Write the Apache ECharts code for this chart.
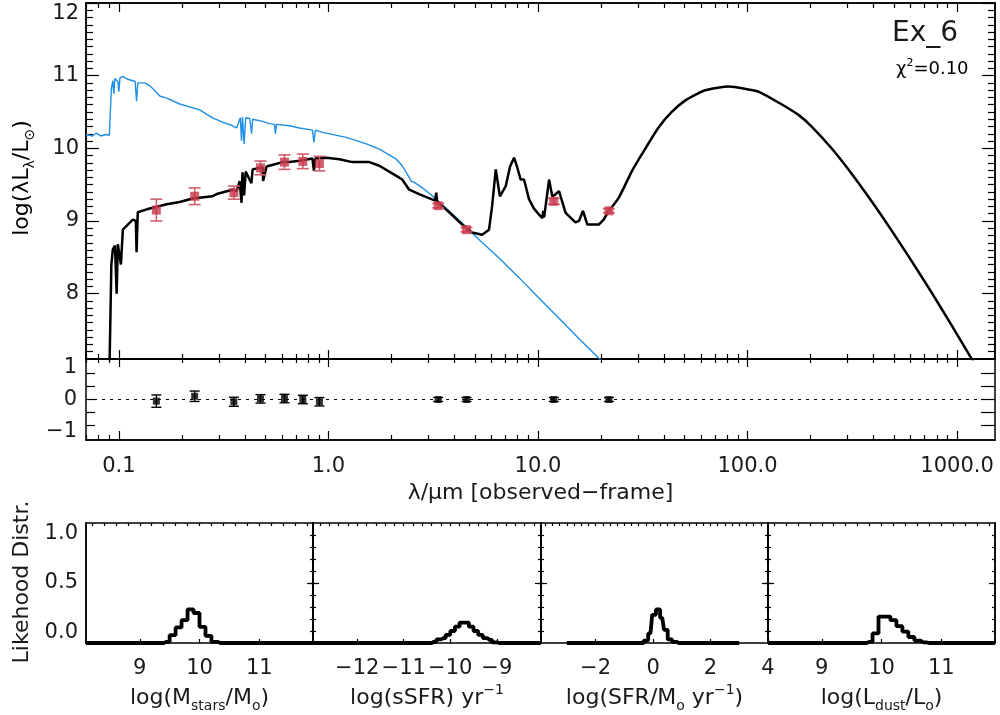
<!DOCTYPE html>
<html>
<head>
<meta charset="utf-8">
<script src="https://cdn.jsdelivr.net/npm/echarts@6/dist/echarts.min.js"></script>
<style>
  html, body { margin: 0; background: #fff; }
  #chart { width: 1000px; height: 715px; }
</style>
</head>
<body>
<div id="chart"></div>
<script>
// ---- values ----
// total model SED (black): wavelength in micron, log(lambda L_lambda / Lsun)
const sedLam = [0.0900, 0.0921, 0.0936, 0.0958, 0.0976, 0.0989, 0.1023, 0.1045, 0.1104, 0.1166,
  0.1205, 0.1215, 0.1231, 0.136, 0.1693, 0.195, 0.225, 0.280, 0.293, 0.349,
  0.365, 0.377, 0.385, 0.389, 0.396, 0.403, 0.411, 0.429, 0.435, 0.485,
  0.488, 0.507, 0.604, 0.652, 0.728, 0.839, 0.853, 0.867, 0.978, 1.128,
  1.301, 1.567, 1.75, 2.11, 2.25, 2.43, 2.71, 3.23, 3.27, 3.30,
  3.77, 4.35, 4.85, 5.41, 5.84, 6.04, 6.29, 6.58, 7.02, 7.36,
  7.69, 7.94, 8.27, 8.58, 9.06, 9.57, 10.1, 10.5, 10.6, 10.7,
  11.3, 11.7, 12.05, 12.6, 13.55, 15.1, 15.7, 16.4, 17.2, 19.5,
  20.6, 21.8, 24.3, 28.0, 30.3, 32.6, 37.7, 43.5, 50.5, 58.4,
  62.9, 81.2, 101, 112.8, 140.5, 175, 202.4, 251.8, 314, 391,
  486.6, 606, 754, 939, 1170, 1330];
const sedLog = [6.80, 8.40, 8.61, 8.66, 8.00, 8.68, 8.40, 8.88, 8.95, 9.02,
  9.00, 8.57, 9.12, 9.16, 9.23, 9.26, 9.31, 9.34, 9.37, 9.43,
  9.41, 9.55, 9.25, 9.67, 9.35, 9.68, 9.66, 9.52, 9.71, 9.74,
  9.55, 9.75, 9.81, 9.81, 9.83, 9.86, 9.69, 9.86, 9.87, 9.85,
  9.81, 9.81, 9.76, 9.62, 9.57, 9.43, 9.37, 9.28, 9.39, 9.27,
  9.12, 8.95, 8.84, 8.81, 8.88, 9.20, 9.71, 9.34, 9.48, 9.75,
  9.87, 9.75, 9.57, 9.57, 9.30, 9.17, 9.09, 9.04, 9.14, 9.05,
  9.57, 9.34, 9.36, 9.41, 9.11, 8.98, 9.00, 9.14, 8.95, 8.95,
  9.02, 9.14, 9.32, 9.68, 9.85, 10.00, 10.29, 10.50, 10.66, 10.76,
  10.80, 10.85, 10.81, 10.78, 10.63, 10.46, 10.30, 10.00, 9.65, 9.27,
  8.87, 8.45, 8.02, 7.57, 7.11, 6.84];

// unattenuated stellar spectrum (blue)
const starLam = [0.0697, 0.075, 0.078, 0.082, 0.0865, 0.0901, 0.0921, 0.0936, 0.0946, 0.0958,
  0.0989, 0.100, 0.1012, 0.1045, 0.1104, 0.1166, 0.1196, 0.1215, 0.1231, 0.133,
  0.1405, 0.148, 0.1567, 0.1693, 0.1952, 0.243, 0.280, 0.319, 0.349, 0.365,
  0.373, 0.380, 0.385, 0.389, 0.396, 0.403, 0.421, 0.430, 0.435, 0.485,
  0.523, 0.553, 0.559, 0.565, 0.652, 0.728, 0.839, 0.853, 0.867, 0.936,
  1.218, 1.517, 1.75, 2.11, 2.25, 2.43, 2.48, 2.57, 2.80, 3.27,
  4.35, 5.24, 6.52, 8.12, 10.1, 12.6, 15.7, 19.7, 21];
const starLog = [10.19, 10.17, 10.21, 10.17, 10.19, 10.18, 10.82, 10.93, 10.75, 10.96,
  10.92, 10.78, 10.97, 10.99, 10.95, 10.93, 10.92, 10.65, 10.90, 10.90,
  10.86, 10.80, 10.72, 10.69, 10.61, 10.53, 10.42, 10.35, 10.31, 10.28,
  10.27, 10.42, 10.10, 10.43, 10.06, 10.42, 10.41, 10.20, 10.40, 10.37,
  10.34, 10.33, 10.20, 10.33, 10.31, 10.28, 10.25, 10.08, 10.25, 10.22,
  10.15, 10.06, 9.99, 9.85, 9.76, 9.60, 9.55, 9.53, 9.46, 9.30,
  8.97, 8.74, 8.49, 8.22, 7.94, 7.66, 7.38, 7.10, 6.98];

// observed photometry (red) and residuals (black)
const obsLam = [0.151, 0.230, 0.354, 0.474, 0.617, 0.755, 0.906, 3.34, 4.56, 11.9, 21.8];
const obsLog = [9.15, 9.34, 9.39, 9.73, 9.81, 9.82, 9.79, 9.21, 8.88, 9.27, 9.14];
const obsErr = [0.15, 0.115, 0.09, 0.095, 0.10, 0.10, 0.10, 0.03, 0.03, 0.04, 0.03];
const resid = [-0.05, 0.10, -0.07, 0.02, 0.03, 0.00, -0.07, 0.00, 0.00, 0.00, 0.00];
const residErr = [0.19, 0.16, 0.14, 0.13, 0.13, 0.13, 0.13, 0.06, 0.06, 0.06, 0.06];

// likelihood distributions (bin centres, probability)
const massBins = [8.1, 9.35, 9.45, 9.55, 9.65, 9.75, 9.85, 9.95, 10.05, 10.15, 10.25, 10.35, 11.9];
const massProb = [0, 0, 0.01, 0.065, 0.13, 0.19, 0.28, 0.25, 0.135, 0.06, 0.01, 0, 0];
const ssfrBins = [-12.95, -10.45, -10.35, -10.25, -10.15, -10.05, -9.95, -9.85, -9.75, -9.65,
  -9.55, -9.45, -9.35, -9.25, -9.15, -9.05, -8.95, -8.05];
const ssfrProb = [0, 0, 0.01, 0.03, 0.04, 0.067, 0.10, 0.136, 0.17, 0.17,
  0.136, 0.10, 0.067, 0.04, 0.025, 0.005, 0, 0];
const sfrBins = [-3.0, -0.4, -0.25, -0.09, 0.03, 0.17, 0.32, 0.44, 0.58, 0.75, 0.9, 3.0];
const sfrProb = [0, 0, 0.02, 0.08, 0.235, 0.28, 0.21, 0.11, 0.03, 0.01, 0, 0];
const ldustBins = [8.1, 9.7, 9.8, 9.9, 10.0, 10.1, 10.2, 10.3, 10.4, 10.5, 10.6, 10.7, 10.8, 11.9];
const ldustProb = [0, 0, 0.01, 0.08, 0.22, 0.22, 0.19, 0.14, 0.095, 0.05, 0.02, 0.005, 0, 0];

// tick labels
const lamTicks = [0.1, 1, 10, 100, 1000];
const sedTicks = [8, 9, 10, 11, 12];
const residTicks = [-1, 0, 1];
const probTicks = [0, 0.5, 1];
const panelTicks = [[9, 10, 11], [-12, -11, -10, -9], [-2, 0, 2, 4], [9, 10, 11]];
const panelRange = [[8.1, 11.9], [-12.95, -8.05], [-3.9, 4.0], [8.1, 11.9]];

// ---- styling ----
const FONT = 'DejaVu Sans';
const TXT = '#1a1a1a';
const RED = '#c8374a';
const BLUE = '#1e8fe6';
const AX = { color: '#000', width: 1.5 };
const XMIN = 0.0697, XMAX = 1517;
const FIR_START = 21.8; // dust emission drawn as a smooth curve from here on

const pairs = (a, b) => a.map((v, i) => [v, b[i]]);
const minus = v => (v < 0 ? '\u2212' + Math.abs(v) : String(v));
const sedPairs = pairs(sedLam, sedLog);

const lamMinor = [];
[0.01, 0.1, 1, 10, 100].forEach(d => {
  for (let k = 2; k <= 9; k++) {
    const v = +(k * d).toPrecision(3);
    if (v > XMIN && v < XMAX) lamMinor.push(v);
  }
});
const sedMinor = [];
for (let k = 72; k < 120; k++) if (k % 10) sedMinor.push(k / 10);
const tenths = [];
for (let k = 1; k < 10; k++) tenths.push(k / 10);
function steps(min, max, st) {
  const out = [];
  for (let v = Math.ceil(min / st) * st; v < max - 1e-9; v += st) out.push(+v.toFixed(3));
  return out;
}

function ax(gridIndex, type, min, max, position, tickVals, tickLen, label) {
  const o = {
    type, gridIndex, min, max, position,
    axisLine: { show: true, onZero: false, lineStyle: AX },
    axisTick: tickVals ? { show: true, inside: true, length: tickLen, customValues: tickVals,
      lineStyle: { color: '#000', width: 1.2 } } : { show: false },
    axisLabel: { show: false },
    splitLine: { show: false },
    minorTick: { show: false }
  };
  if (type === 'log') o.logBase = 10;
  if (label) o.axisLabel = Object.assign({ show: true, color: TXT, fontFamily: FONT, fontSize: 21 }, label);
  return o;
}

const rich = {
  t: { fontFamily: FONT, fontSize: 22, color: TXT, lineHeight: 30 },
  s: { fontFamily: FONT, fontSize: 14, color: TXT, verticalAlign: 'bottom', lineHeight: 14 },
  p: { fontFamily: FONT, fontSize: 14, color: TXT, verticalAlign: 'top', lineHeight: 14 }
};

// ---- axes ----
const xAxis = [
  ax(0, 'log', XMIN, XMAX, 'bottom', lamTicks, 9),
  ax(0, 'log', XMIN, XMAX, 'bottom', lamMinor, 5),
  ax(0, 'log', XMIN, XMAX, 'top', lamTicks, 9),
  ax(0, 'log', XMIN, XMAX, 'top', lamMinor, 5),
  Object.assign(ax(1, 'log', XMIN, XMAX, 'bottom', lamTicks, 9,
    { customValues: lamTicks, margin: 16, formatter: v => (v < 1 ? String(v) : Number(v).toFixed(1)) }), {
    name: '\u03bb/\u03bcm [observed\u2212frame]', nameLocation: 'middle', nameGap: 42,
    nameTextStyle: { fontFamily: FONT, fontSize: 22, color: TXT }
  }),
  ax(1, 'log', XMIN, XMAX, 'bottom', lamMinor, 5),
  ax(1, 'log', XMIN, XMAX, 'top', lamTicks, 8),
  ax(1, 'log', XMIN, XMAX, 'top', lamMinor, 4)
];
const panelNames = [
  '{t|log(M}{s|stars}{t|/M}{s|o}{t|)}',
  '{t|log(sSFR) yr}{p|\u22121}',
  '{t|log(SFR/M}{s|o}{t| yr}{p|\u22121}{t|)}',
  '{t|log(L}{s|dust}{t|/L}{s|o}{t|)}'
];
panelRange.forEach((r, i) => {
  xAxis.push(Object.assign(ax(2 + i, 'value', r[0], r[1], 'bottom', panelTicks[i], 4,
    { customValues: panelTicks[i], formatter: minus, margin: 15 }), {
    name: panelNames[i], nameLocation: 'middle', nameGap: 40,
    nameTextStyle: { rich }
  }));
  xAxis.push(ax(2 + i, 'value', r[0], r[1], 'top', steps(r[0], r[1], i === 2 ? 0.25 : 0.2), 3));
});

const yAxis = [
  ax(0, 'value', 7.1, 12, 'left', sedTicks, 13,
    { customValues: sedTicks, margin: 7, verticalAlignMaxLabel: 'top' }),
  ax(0, 'value', 7.1, 12, 'left', sedMinor, 7),
  ax(0, 'value', 7.1, 12, 'right', sedTicks, 13),
  ax(0, 'value', 7.1, 12, 'right', sedMinor, 7),
  ax(1, 'value', -1.25, 1.25, 'left', [-0.8, -0.4, 0, 0.4, 0.8], 9,
    { customValues: residTicks, formatter: minus, margin: 9 }),
  ax(1, 'value', -1.25, 1.25, 'right', [-0.8, -0.4, 0, 0.4, 0.8], 14)
];
for (let i = 0; i < 4; i++) {
  if (i === 0) {
    yAxis.push(ax(2, 'value', 0, 1, 'left', null, 0,
      { customValues: probTicks, formatter: v => Number(v).toFixed(1), margin: 8,
        verticalAlignMinLabel: 'bottom', verticalAlignMaxLabel: 'top' }));
    yAxis.push(ax(2, 'value', 0, 1, 'left', null, 0));
  } else {
    yAxis.push(ax(2 + i, 'value', 0, 1, 'left', tenths, 3));
    yAxis.push(ax(2 + i, 'value', 0, 1, 'left', [0.5], 6));
  }
  yAxis.push(ax(2 + i, 'value', 0, 1, 'right', tenths, 3));
  yAxis.push(ax(2 + i, 'value', 0, 1, 'right', [0.5], 6));
}

// error bars drawn through the axes' own coordinate mapping
function errBars(color, cap, width) {
  return function (params, api) {
    const x = api.value(0), y = api.value(1), e = api.value(2);
    const hi = api.coord([x, y + e]), lo = api.coord([x, y - e]);
    const st = { stroke: color, lineWidth: width };
    return {
      type: 'group', children: [
        { type: 'line', shape: { x1: hi[0], y1: hi[1], x2: lo[0], y2: lo[1] }, style: st },
        { type: 'line', shape: { x1: hi[0] - cap, y1: hi[1], x2: hi[0] + cap, y2: hi[1] }, style: st },
        { type: 'line', shape: { x1: lo[0] - cap, y1: lo[1], x2: lo[0] + cap, y2: lo[1] }, style: st }
      ]
    };
  };
}

const series = [
  { type: 'line', xAxisIndex: 0, yAxisIndex: 0, data: pairs(starLam, starLog), showSymbol: false,
    lineStyle: { color: BLUE, width: 1.4 }, z: 2 },
  { type: 'line', xAxisIndex: 0, yAxisIndex: 0, data: sedPairs.filter(p => p[0] <= FIR_START),
    showSymbol: false, lineStyle: { color: '#000', width: 2.5 }, z: 3 },
  { type: 'line', xAxisIndex: 0, yAxisIndex: 0, data: sedPairs.filter(p => p[0] >= FIR_START),
    showSymbol: false, smooth: 0.25, lineStyle: { color: '#000', width: 2.5 }, z: 3 },
  { type: 'custom', xAxisIndex: 0, yAxisIndex: 0, encode: { x: 0, y: 1 },
    data: obsLam.map((l, i) => [l, obsLog[i], obsErr[i]]),
    renderItem: errBars('#d0606c', 6, 1.6), z: 4 },
  { type: 'scatter', xAxisIndex: 0, yAxisIndex: 0, data: pairs(obsLam, obsLog), symbol: 'rect',
    symbolSize: 9, itemStyle: { color: RED }, z: 5 },
  { type: 'custom', xAxisIndex: 4, yAxisIndex: 4, encode: { x: 0, y: 1 },
    data: obsLam.map((l, i) => [l, resid[i], residErr[i]]),
    renderItem: errBars('#000', 5, 1.4), z: 4 },
  { type: 'scatter', xAxisIndex: 4, yAxisIndex: 4, data: pairs(obsLam, resid), symbol: 'rect',
    symbolSize: 7, itemStyle: { color: '#000' }, z: 5,
    markLine: { silent: true, symbol: 'none', label: { show: false },
      lineStyle: { color: '#000', type: [3, 5], width: 1 }, data: [{ yAxis: 0 }] } }
];
[[massBins, massProb], [ssfrBins, ssfrProb], [sfrBins, sfrProb], [ldustBins, ldustProb]].forEach((h, i) => {
  series.push({ type: 'line', step: 'middle', xAxisIndex: 8 + 2 * i, yAxisIndex: 6 + 4 * i,
    data: pairs(h[0], h[1]), showSymbol: false, lineStyle: { color: '#000', width: 3.8 }, z: 3 });
});

const chart = echarts.init(document.getElementById('chart'));
chart.setOption({
  animation: false,
  backgroundColor: '#fff',
  grid: [
    { left: 86, top: 3, width: 909, height: 356 },
    { left: 86, top: 359, width: 909, height: 81 },
    { left: 86, top: 523, width: 227, height: 120 },
    { left: 313, top: 523, width: 228, height: 120 },
    { left: 541, top: 523, width: 227, height: 120 },
    { left: 768, top: 523, width: 227, height: 120 }
  ],
  xAxis,
  yAxis,
  series,
  graphic: [
    { type: 'text', left: 892, top: 20, style: { text: 'Ex_6', font: '28px "DejaVu Sans"', fill: TXT } },
    { type: 'text', left: 896, top: 58, style: { text: '{t|\u03c7}{p|2}{t|=0.10}',
      rich: { t: { fontFamily: FONT, fontSize: 18, color: TXT, lineHeight: 22 },
              p: { fontFamily: FONT, fontSize: 11, color: TXT, verticalAlign: 'top', lineHeight: 11 } } } },
    { type: 'text', x: 22, y: 178, rotation: Math.PI / 2,
      style: { text: '{t|log(\u03bbL}{s|\u03bb}{t|/L}{s|\u2299}{t|)}', rich, align: 'center', verticalAlign: 'middle' } },
    { type: 'text', x: 22, y: 582, rotation: Math.PI / 2,
      style: { text: 'Likehood Distr.', font: '22px "DejaVu Sans"', fill: TXT, align: 'center', verticalAlign: 'middle' } }
  ]
});
</script>
</body>
</html>
